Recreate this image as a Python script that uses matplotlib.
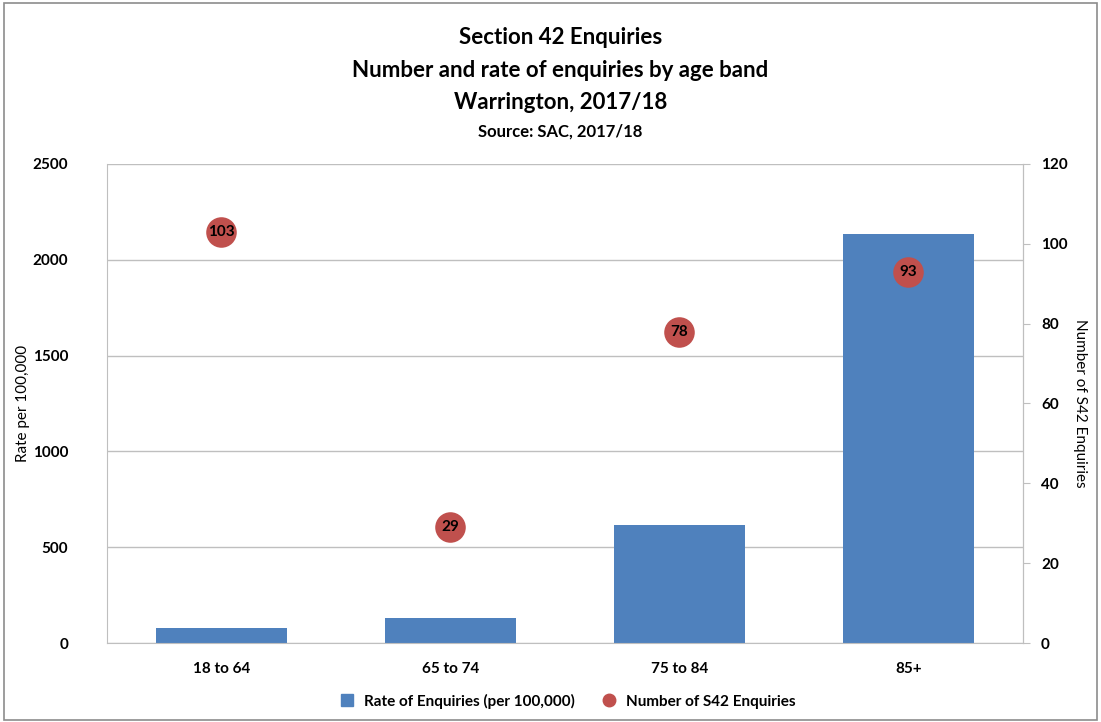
import matplotlib

matplotlib.use("Agg")
import matplotlib.pyplot as plt
from matplotlib.lines import Line2D
from matplotlib.patches import Rectangle
import numpy as np

plt.rcParams["font.family"] = ["Lato", "DejaVu Sans"]

age_bands = ["18 to 64", "65 to 74", "75 to 84", "85+"]
rate_per_100k = [78, 130, 616, 2135]
s42_counts = [103, 29, 78, 93]

bar_color = "#4F81BD"
dot_color = "#C0504D"
grid_color = "#BFBFBF"

fig = plt.figure(figsize=(11.01, 7.22), dpi=100)
fig.patches.append(Rectangle((0.004, 0.003), 0.992, 0.993, transform=fig.transFigure,
                             fill=False, edgecolor="#8C8C8C", linewidth=1.2))

ax = fig.add_axes([0.0972, 0.1094, 0.8318, 0.6635])
x = np.arange(len(age_bands))
ax.bar(x, rate_per_100k, width=0.57, color=bar_color, zorder=2)
ax.set_xlim(-0.5, len(age_bands) - 0.5)
ax.set_ylim(0, 2500)
ax.set_yticks(range(0, 2501, 500))
ax.set_xticks(x)
ax.set_xticklabels(age_bands, fontsize=11, fontweight="bold")
ax.tick_params(axis="x", length=0, pad=14)
ax.tick_params(axis="y", length=0, pad=28, labelsize=11)
for lab in ax.get_yticklabels():
    lab.set_fontweight("bold")
ax.yaxis.grid(True, color=grid_color, linewidth=1.0, zorder=0)
ax.set_axisbelow(True)
ax.spines["top"].set_visible(False)
for side in ["left", "bottom", "right"]:
    ax.spines[side].set_color(grid_color)
ax.set_ylabel("Rate per 100,000", fontsize=11)
ax.yaxis.set_label_coords(-0.084, 0.5)

ax2 = ax.twinx()
ax2.plot(x, s42_counts, linestyle="none", marker="o", markersize=22,
         color=dot_color, markeredgewidth=0, zorder=3)
for xi, v in zip(x, s42_counts):
    ax2.text(xi, v, str(v), ha="center", va="center", fontsize=11,
             fontweight="bold", color="black", zorder=4)
ax2.set_ylim(0, 120)
ax2.set_yticks(range(0, 121, 20))
ax2.tick_params(axis="y", length=5, color=grid_color, pad=8, labelsize=11)
for lab in ax2.get_yticklabels():
    lab.set_fontweight("bold")
for side in ["top", "left", "bottom"]:
    ax2.spines[side].set_visible(False)
ax2.spines["right"].set_color(grid_color)
ax2.set_ylabel("Number of S42 Enquiries", fontsize=11, rotation=-90, va="center")
ax2.yaxis.set_label_coords(1.062, 0.5)

fig.text(0.509, 0.948, "Section 42 Enquiries", ha="center", va="center",
         fontsize=16, fontweight="bold")
fig.text(0.509, 0.903, "Number and rate of enquiries by age band", ha="center",
         va="center", fontsize=16, fontweight="bold")
fig.text(0.509, 0.858, "Warrington, 2017/18", ha="center", va="center",
         fontsize=16, fontweight="bold")
fig.text(0.509, 0.818, "Source: SAC, 2017/18", ha="center", va="center",
         fontsize=12, fontweight="bold")

handles = [
    Line2D([], [], linestyle="none", marker="s", markersize=8, color=bar_color),
    Line2D([], [], linestyle="none", marker="o", markersize=9, color=dot_color),
]
fig.legend(handles, ["Rate of Enquiries (per 100,000)", "Number of S42 Enquiries"],
           loc="center", bbox_to_anchor=(0.512, 0.029), ncol=2, frameon=False,
           prop={"size": 11, "weight": "bold"}, handletextpad=0.1, columnspacing=1.2)

fig.savefig("out.png", dpi=100)
